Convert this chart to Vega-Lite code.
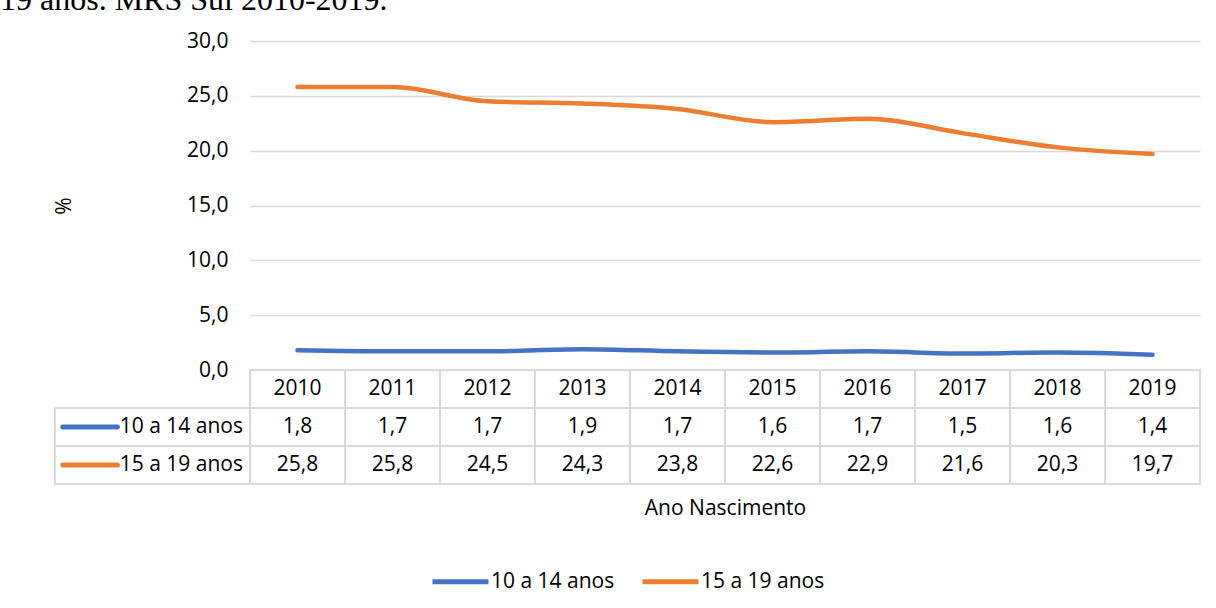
{
  "$schema": "https://vega.github.io/schema/vega-lite/v6.json",
  "background": "white",
  "padding": {"left": 0, "top": -16, "right": 0, "bottom": 18},
  "title": {
    "text": "19 anos. MRS Sul 2010-2019.",
    "font": "Liberation Serif",
    "fontSize": 32,
    "fontWeight": "normal",
    "color": "black",
    "anchor": "start",
    "frame": "group",
    "baseline": "top",
    "dx": -55,
    "offset": 13
  },
  "datasets": {
    "nasc": [
      {"ano": "2010", "serie": "10 a 14 anos", "valor": 1.8},
      {"ano": "2011", "serie": "10 a 14 anos", "valor": 1.7},
      {"ano": "2012", "serie": "10 a 14 anos", "valor": 1.7},
      {"ano": "2013", "serie": "10 a 14 anos", "valor": 1.9},
      {"ano": "2014", "serie": "10 a 14 anos", "valor": 1.7},
      {"ano": "2015", "serie": "10 a 14 anos", "valor": 1.6},
      {"ano": "2016", "serie": "10 a 14 anos", "valor": 1.7},
      {"ano": "2017", "serie": "10 a 14 anos", "valor": 1.5},
      {"ano": "2018", "serie": "10 a 14 anos", "valor": 1.6},
      {"ano": "2019", "serie": "10 a 14 anos", "valor": 1.4},
      {"ano": "2010", "serie": "15 a 19 anos", "valor": 25.8},
      {"ano": "2011", "serie": "15 a 19 anos", "valor": 25.8},
      {"ano": "2012", "serie": "15 a 19 anos", "valor": 24.5},
      {"ano": "2013", "serie": "15 a 19 anos", "valor": 24.3},
      {"ano": "2014", "serie": "15 a 19 anos", "valor": 23.8},
      {"ano": "2015", "serie": "15 a 19 anos", "valor": 22.6},
      {"ano": "2016", "serie": "15 a 19 anos", "valor": 22.9},
      {"ano": "2017", "serie": "15 a 19 anos", "valor": 21.6},
      {"ano": "2018", "serie": "15 a 19 anos", "valor": 20.3},
      {"ano": "2019", "serie": "15 a 19 anos", "valor": 19.7}
    ]
  },
  "data": {"name": "nasc"},
  "columns": 2,
  "spacing": 0,
  "bounds": "flush",
  "concat": [
    {
      "width": 195,
      "height": 329,
      "transform": [{"filter": "false"}],
      "mark": {"type": "point", "opacity": 0},
      "encoding": {}
    },
    {
      "width": 950,
      "height": 329,
      "mark": {"type": "line", "strokeWidth": 4.5, "strokeCap": "round", "strokeJoin": "round", "interpolate": "monotone"},
      "encoding": {
        "x": {"field": "ano", "type": "ordinal", "scale": {"type": "point", "padding": 0.5}, "axis": null},
        "y": {
          "field": "valor",
          "type": "quantitative",
          "scale": {"domain": [0, 30], "nice": false},
          "axis": {
            "title": "%",
            "values": [0, 5, 10, 15, 20, 25, 30],
            "format": ".1f",
            "grid": true,
            "domain": false,
            "ticks": false,
            "labelPadding": 22,
            "titlePadding": 112
          }
        },
        "color": {
          "field": "serie",
          "type": "nominal",
          "scale": {"domain": ["10 a 14 anos", "15 a 19 anos"], "range": ["#4472C4", "#ED7D31"]},
          "legend": {
            "title": null,
            "orient": "bottom",
            "direction": "horizontal",
            "symbolType": "stroke",
            "symbolSize": 3136,
            "symbolStrokeWidth": 5,
            "labelFont": "Open Sans",
            "labelFontSize": 21,
            "labelColor": "black",
            "labelOffset": 0,
            "columnPadding": 17,
            "offset": 33
          }
        }
      }
    },
    {
      "width": 195,
      "height": 114,
      "transform": [{"filter": "datum.ano == '2010'"}],
      "encoding": {
        "y": {
          "field": "serie",
          "type": "nominal",
          "scale": {"domain": ["Ano", "10 a 14 anos", "15 a 19 anos"], "paddingInner": 0, "paddingOuter": 0},
          "axis": null
        }
      },
      "layer": [
        {
          "mark": {"type": "rect", "fill": "white", "stroke": "#d9d9d9", "strokeWidth": 2},
          "encoding": {
            "x": {"datum": 0, "type": "quantitative", "scale": {"domain": [0, 1]}, "axis": null},
            "x2": {"datum": 1}
          }
        },
        {
          "mark": {"type": "rule", "strokeWidth": 5, "strokeCap": "round"},
          "encoding": {
            "x": {"datum": 0.04, "type": "quantitative"},
            "x2": {"datum": 0.32},
            "y": {"field": "serie", "type": "nominal", "bandPosition": 0.5},
            "color": {"field": "serie", "type": "nominal"}
          }
        },
        {
          "mark": {"type": "text", "align": "right", "baseline": "middle", "dx": -7, "font": "Open Sans", "fontSize": 21, "color": "black"},
          "encoding": {
            "x": {"datum": 1, "type": "quantitative"},
            "y": {"field": "serie", "type": "nominal", "bandPosition": 0.5},
            "text": {"field": "serie"}
          }
        }
      ]
    },
    {
      "width": 950,
      "height": 114,
      "encoding": {
        "x": {
          "field": "ano",
          "type": "ordinal",
          "scale": {"type": "band", "paddingInner": 0, "paddingOuter": 0},
          "axis": {"title": "Ano Nascimento", "labels": false, "ticks": false, "domain": false, "titlePadding": 13}
        }
      },
      "layer": [
        {
          "mark": {"type": "rect", "fill": "white", "stroke": "#d9d9d9", "strokeWidth": 2},
          "encoding": {
            "y": {"field": "serie", "type": "nominal", "scale": {"domain": ["Ano", "10 a 14 anos", "15 a 19 anos"], "paddingInner": 0, "paddingOuter": 0}, "axis": null}
          }
        },
        {
          "transform": [{"filter": "datum.serie == '10 a 14 anos'"}],
          "mark": {"type": "rect", "fill": "white", "stroke": "#d9d9d9", "strokeWidth": 2},
          "encoding": {
            "y": {"datum": "Ano", "type": "nominal"}
          }
        },
        {
          "mark": {"type": "text", "align": "center", "baseline": "middle", "font": "Open Sans", "fontSize": 21, "color": "black"},
          "encoding": {
            "y": {"field": "serie", "type": "nominal", "bandPosition": 0.5},
            "text": {"field": "valor", "type": "quantitative", "format": ".1f"}
          }
        },
        {
          "transform": [{"filter": "datum.serie == '10 a 14 anos'"}],
          "mark": {"type": "text", "align": "center", "baseline": "middle", "font": "Open Sans", "fontSize": 21, "color": "black"},
          "encoding": {
            "y": {"datum": "Ano", "type": "nominal", "bandPosition": 0.5},
            "text": {"field": "ano"}
          }
        }
      ]
    }
  ],
  "config": {
    "locale": {"number": {"decimal": ",", "thousands": ".", "grouping": [3], "currency": ["R$", ""]}},
    "view": {"stroke": null},
    "font": "Open Sans",
    "axis": {
      "labelFont": "Open Sans",
      "labelFontSize": 21,
      "labelColor": "black",
      "titleFont": "Open Sans",
      "titleFontSize": 21,
      "titleFontWeight": "normal",
      "titleColor": "black",
      "gridColor": "#d9d9d9",
      "gridWidth": 1.5
    },
    "legend": {"layout": {"bottom": {"anchor": "middle"}}}
  }
}
